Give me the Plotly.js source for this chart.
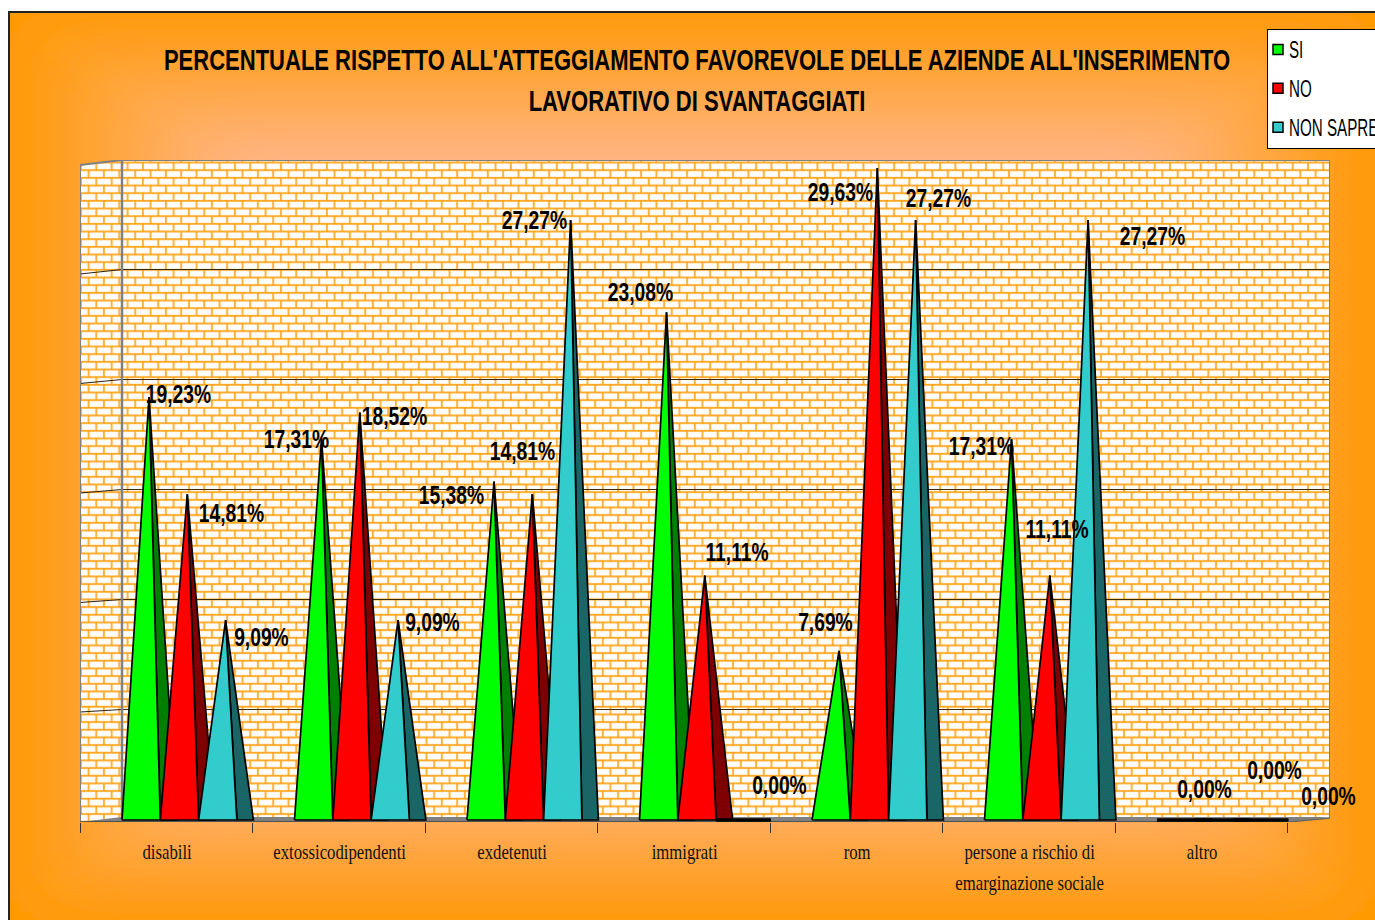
<!DOCTYPE html>
<html>
<head>
<meta charset="utf-8">
<script src="https://cdn.plot.ly/plotly-3.0.1.min.js"></script>
<style>
html,body{margin:0;padding:0;background:#fff;width:1375px;height:920px;overflow:hidden}
#bg{position:absolute;left:0;top:0}
#chart{position:absolute;left:0;top:0}
</style>
</head>
<body>
<svg id="bg" width="1420" height="920" xmlns="http://www.w3.org/2000/svg">
<defs>
<linearGradient id="gl" gradientUnits="userSpaceOnUse" x1="9" y1="0" x2="692" y2="0"><stop offset="0" stop-color="#FF9900"/><stop offset="0.4" stop-color="#FFBBA0"/></linearGradient>
<linearGradient id="gr" gradientUnits="userSpaceOnUse" x1="1375" y1="0" x2="692" y2="0"><stop offset="0" stop-color="#FF9900"/><stop offset="0.4" stop-color="#FFBBA0"/></linearGradient>
<linearGradient id="gt" gradientUnits="userSpaceOnUse" x1="0" y1="12" x2="0" y2="466"><stop offset="0" stop-color="#FF9900"/><stop offset="0.4" stop-color="#FFBBA0"/></linearGradient>
<linearGradient id="gb" gradientUnits="userSpaceOnUse" x1="0" y1="920" x2="0" y2="466"><stop offset="0" stop-color="#FF9900"/><stop offset="0.4" stop-color="#FFBBA0"/></linearGradient>
<filter id="soft" filterUnits="userSpaceOnUse" x="-300" y="-300" width="2100" height="1600"><feGaussianBlur stdDeviation="28"/></filter>
<clipPath id="frame"><rect x="9" y="12" width="1411" height="908"/></clipPath>
<pattern id="brickBack" patternUnits="userSpaceOnUse" x="127.6" y="162.6" width="15.33" height="15.33">
<rect width="15.33" height="15.33" fill="#FF9A05"/>
<rect x="0.6" y="0.6" width="14.1" height="6.3" fill="#FFE0A8"/><rect x="1.1" y="1.1" width="13.1" height="5.3" fill="#fff"/>
<rect x="-7.1" y="8.27" width="14.1" height="6.3" fill="#FFE0A8"/><rect x="-6.6" y="8.77" width="13.1" height="5.3" fill="#fff"/>
<rect x="8.23" y="8.27" width="14.1" height="6.3" fill="#FFE0A8"/><rect x="8.73" y="8.77" width="13.1" height="5.3" fill="#fff"/>
</pattern>
<pattern id="brickSide" patternUnits="userSpaceOnUse" x="81" y="162.6" width="15.33" height="15.33">
<rect width="15.33" height="15.33" fill="#FF9A05"/>
<rect x="0.6" y="0.6" width="14.1" height="6.3" fill="#FFE0A8"/><rect x="1.1" y="1.1" width="13.1" height="5.3" fill="#fff"/>
<rect x="-7.1" y="8.27" width="14.1" height="6.3" fill="#FFE0A8"/><rect x="-6.6" y="8.77" width="13.1" height="5.3" fill="#fff"/>
<rect x="8.23" y="8.27" width="14.1" height="6.3" fill="#FFE0A8"/><rect x="8.73" y="8.77" width="13.1" height="5.3" fill="#fff"/>
</pattern>
</defs>
<g clip-path="url(#frame)">
<g filter="url(#soft)">
<polygon points="-128,-79 692,466 -128,1011" fill="url(#gl)"/>
<polygon points="1512,-79 692,466 1512,1011" fill="url(#gr)"/>
<polygon points="-128,-79 1512,-79 692,466" fill="url(#gt)"/>
<polygon points="-128,1011 1512,1011 692,466" fill="url(#gb)"/>
</g>
</g>
<path d="M9,920 L9,12 L1420,12" fill="none" stroke="#222" stroke-width="2"/>
<polygon points="80,165 122,160 122,818 80,822" fill="url(#brickSide)"/>
<rect x="122" y="160" width="1208" height="658" fill="url(#brickBack)"/>
</svg>
<div id="chart"></div>
<script>
// ---- data ----
var categories = ["disabili","extossicodipendenti","exdetenuti","immigrati","rom","persone a rischio di<br>emarginazione sociale","altro"];
var seriesNames = ["SI","NO","NON SAPREI"];
var valuesSI = [19.23,17.31,15.38,23.08,7.69,17.31,0];
var valuesNO = [14.81,18.52,14.81,11.11,29.63,11.11,0];
var valuesNonSaprei = [9.09,9.09,27.27,0,27.27,27.27,0];
var frontColors = ["#00FF00","#FF0000","#33CCCC"];
var sideColors = ["#007F00","#7F0000","#1A6666"];
var titleText = "PERCENTUALE RISPETTO ALL'ATTEGGIAMENTO FAVOREVOLE DELLE AZIENDE ALL'INSERIMENTO<br>LAVORATIVO DI SVANTAGGIATI";
// label placement relative to each pyramid tip, in pixels [right, down]
var labelOffsetsSI = [[29,-3],[-25,0],[-43,13],[-26,-20],[-14,-29],[-30,7],[20,-31]];
var labelOffsetsNO = [[44,19],[35,3],[-10,-43],[32,-24],[-37,24],[7,-47],[52,-50]];
var labelOffsetsNS = [[36,17],[34,2],[-36,0],[36,-35],[23,-22],[64,16],[68,-24]];

// ---- geometry of the plot, category units on x, percent on y ----
var PX_CAT = 172.5, PX_PCT = 22;
var X0 = 80, Y0 = 820;
function xu(px){return (px-X0)/PX_CAT;}
function yu(px){return (Y0-px)/PX_PCT;}
var GROUP_START = 42/PX_CAT, FACE = 38.3/PX_CAT, DEPTH = 16.5/PX_CAT, TIP = 27/PX_CAT;

var allValues = [valuesSI,valuesNO,valuesNonSaprei];
var allOffsets = [labelOffsetsSI,labelOffsetsNO,labelOffsetsNS];
var traces = [], annotations = [], zeroX = [], zeroY = [];
allValues.forEach(function(vals,s){
  var fx=[],fy=[],sx=[],sy=[];
  vals.forEach(function(v,i){
    var x0 = i+GROUP_START+s*FACE;
    fx.push(x0,x0+FACE,x0+TIP,x0,null); fy.push(0,0,v,0,null);
    sx.push(x0+FACE,x0+FACE+DEPTH,x0+TIP,x0+FACE,null); sy.push(0,0,v,0,null);
    if(v===0){ zeroX.push(x0,x0+FACE+DEPTH,null); zeroY.push(v,v,null); }
    annotations.push({x:x0+TIP,y:v,xref:'x',yref:'y',text:v.toFixed(2).replace('.',',')+'%',showarrow:false,
      xanchor:'center',yanchor:'middle',xshift:allOffsets[s][i][0],yshift:-allOffsets[s][i][1],
      font:{family:'"Liberation Sans"',size:25,color:'#000',weight:'bold'}});
  });
  var base={type:'scatter',mode:'lines',fill:'toself',showlegend:false,hoverinfo:'skip',cliponaxis:false,line:{color:'#000',width:1.7}};
  traces.push(Object.assign({},base,{x:sx,y:sy,fillcolor:sideColors[s]}));
  traces.push(Object.assign({},base,{x:fx,y:fy,fillcolor:frontColors[s]}));
});
// pyramids of height zero collapse to a heavy flat stroke
traces.push({type:'scatter',mode:'lines',x:zeroX,y:zeroY,showlegend:false,hoverinfo:'skip',cliponaxis:false,line:{color:'#000',width:3.5}});
seriesNames.forEach(function(n,s){
  traces.push({type:'scatter',mode:'markers',x:[null],y:[null],name:n,legendgroup:n,showlegend:true,
    marker:{symbol:'square',size:10,color:frontColors[s],line:{color:'#000',width:1.5}}});
});

var shapes = [];
function seg(x1,y1,x2,y2,c,w){shapes.push({type:'line',layer:'below',xref:'x',yref:'y',x0:xu(x1),y0:yu(y1),x1:xu(x2),y1:yu(y2),line:{color:c,width:w}});}
// gridlines every 5 %
[5,10,15,20,25].forEach(function(p){
  var y = Y0-p*PX_PCT-0.5;
  seg(122,y,1330,y,'#3f2a00',1);
  seg(80,y+2+p*0.1,122,y,'#2a2010',1);
});
seg(122,160,1330,160,'#808080',2);
seg(80,165,122,160,'#808080',2);
seg(122,160,122,818,'#808080',2.5);
seg(80,165,80,822,'#808080',2);
seg(1330,160,1330,818,'#808080',2);
shapes.push({type:'path',layer:'below',xref:'x',yref:'y',
  path:'M '+xu(80)+' '+yu(822)+' L '+xu(122)+' '+yu(817)+' L '+xu(1330)+' '+yu(817)+' L '+xu(1288)+' '+yu(822)+' Z',
  fillcolor:'#808080',line:{width:0}});
seg(80,822,1288,822,'#222',1.2);
seg(1288,822,1330,818,'#666',1.5);

var layout = {
  width:1420,height:920,
  margin:{l:80,r:90,t:160,b:98,pad:0,autoexpand:false},
  paper_bgcolor:'rgba(0,0,0,0)',plot_bgcolor:'rgba(0,0,0,0)',
  title:{text:titleText,x:697/1420,xref:'container',xanchor:'center',y:1-70/920,yanchor:'middle',
    font:{family:'"Liberation Sans"',size:30,color:'#000',weight:'bold'}},
  xaxis:{range:[0,1250/PX_CAT],showgrid:false,zeroline:false,showline:false,
    tickmode:'array',tickvals:categories.map(function(c,i){return i+0.505;}),ticktext:categories,
    ticks:'outside',ticklen:10,tickcolor:'rgba(0,0,0,0)',
    tickfont:{family:'"Liberation Serif"',size:22,color:'#111'},
    minor:{tickmode:'array',tickvals:[0,1,2,3,4,5,6,7],ticks:'outside',ticklen:10,tickcolor:'#333',tickwidth:1,showgrid:false}},
  yaxis:{range:[-2/PX_PCT,30],showgrid:false,zeroline:false,showline:false,showticklabels:false,ticks:''},
  legend:{x:(1267-80)/1250,xanchor:'left',y:(822-29)/662,yanchor:'top',bgcolor:'#fff',bordercolor:'#000',borderwidth:1,
    traceorder:'grouped',tracegroupgap:6,itemclick:false,itemdoubleclick:false,
    font:{family:'"Liberation Sans"',size:23,color:'#000'}},
  annotations:annotations,shapes:shapes,showlegend:true
};
// The reference uses a horizontally condensed face: squeeze real text around an anchor.
function squeeze(el,sx,cx){
  var b=el.getBBox(); var c=(cx===undefined)?b.x+b.width/2:cx;
  var t=el.getAttribute('transform')||'';
  el.setAttribute('transform',t+' translate('+c+',0) scale('+sx+',1) translate('+(-c)+',0)');
}
function lineGap(el,px){
  el.querySelectorAll('tspan.line').forEach(function(t,i){ if(i>0) t.setAttribute('dy',px+'px'); });
}
Plotly.newPlot('chart',traces,layout,{displayModeBar:false}).then(function(gd){
  document.querySelectorAll('.xtick text').forEach(function(t){ lineGap(t,31); squeeze(t,0.76); });
  document.querySelectorAll('.annotation-text').forEach(function(t){ squeeze(t,0.77); });
  var tt=document.querySelector('.gtitle');
  if(tt){ lineGap(tt,41); squeeze(tt,1067/tt.getBBox().width); }
  document.querySelectorAll('.legend .legendtext').forEach(function(t){
    t.setAttribute('x','21');
    t.querySelectorAll('tspan.line').forEach(function(s){s.setAttribute('x','21');});
    squeeze(t,0.66,21);
  });
  document.querySelectorAll('.legend .legendsymbols .legendpoints').forEach(function(p){p.setAttribute('transform','translate(-10,0)');});
  var sb=document.querySelector('.legend .scrollbox'); if(sb) sb.setAttribute('transform','translate(0,-2)');
  var bg=document.querySelector('.legend rect.bg'); if(bg) bg.setAttribute('height','119');
});
</script>
</body>
</html>
